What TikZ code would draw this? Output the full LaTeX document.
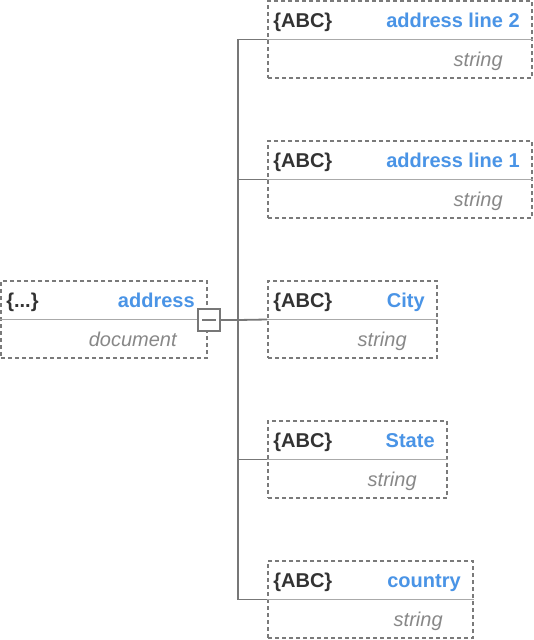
\documentclass[tikz,border=0pt]{standalone}
\usepackage{fontspec}
\setmainfont{Liberation Sans}
\definecolor{bordergray}{HTML}{7A7A7A}
\definecolor{divgray}{HTML}{AAAAAA}
\definecolor{linegray}{HTML}{777777}
\definecolor{nameblue}{HTML}{4A94E6}
\definecolor{kinddark}{HTML}{333333}
\definecolor{typegray}{HTML}{888888}
\tikzset{
  x=1pt, y=1pt,
  fieldbox/.style={draw=bordergray, line width=1.7pt, dash pattern=on 4pt off 3pt, minimum height=77pt, inner sep=0pt, fill=white},
  divider/.style={draw=divgray, line width=1.7pt},
  conn/.style={draw=linegray, line width=1.8pt},
  kindtxt/.style={anchor=base west, inner sep=0pt, text=kinddark, font=\fontsize{20}{23}\selectfont\bfseries},
  nametxt/.style={anchor=base east, inner sep=0pt, text=nameblue, font=\fontsize{20}{23}\selectfont\bfseries},
  typetxt/.style={anchor=base east, inner sep=0pt, text=typegray, font=\fontsize{20}{23}\selectfont\itshape},
  togglebox/.style={draw=linegray, line width=1.7pt, fill=white, minimum width=22pt, minimum height=22pt, inner sep=0pt}
}
\newcommand{\fieldnode}[6]{%
  \node[fieldbox, minimum width=#4] (#1) at (#2,#3) {};
  \draw[divider] (#1.west) -- (#1.east);
  \node[kindtxt] (#1-kind) at ([xshift=6pt, yshift=12.5pt]#1.west) {#5};
  \node[nametxt] (#1-name) at ([xshift=-13pt, yshift=12.5pt]#1.east) {#6};
}
\begin{document}
\begin{tikzpicture}
\useasboundingbox (0,0) rectangle (534,-640);
\coordinate (j) at (238,-320);
\fieldnode{addr}{104}{-319.5}{206pt}{\{...\}}{address}
\node[typetxt] (addr-type) at ([xshift=-31pt, yshift=-26.5pt]addr.east) {document};
\fieldnode{ltwo}{400}{-39.5}{264pt}{\{ABC\}}{address line 2}
\node[typetxt] (ltwo-type) at ([xshift=-30pt, yshift=-26.5pt]ltwo.east) {string};
\fieldnode{lone}{400}{-179.5}{264pt}{\{ABC\}}{address line 1}
\node[typetxt] (lone-type) at ([xshift=-30pt, yshift=-26.5pt]lone.east) {string};
\fieldnode{city}{352.5}{-319.5}{169pt}{\{ABC\}}{City}
\node[typetxt] (city-type) at ([xshift=-31pt, yshift=-26.5pt]city.east) {string};
\fieldnode{state}{357.5}{-459.5}{179pt}{\{ABC\}}{State}
\node[typetxt] (state-type) at ([xshift=-31pt, yshift=-26.5pt]state.east) {string};
\fieldnode{country}{370.5}{-599.5}{205pt}{\{ABC\}}{country}
\node[typetxt] (country-type) at ([xshift=-31pt, yshift=-26.5pt]country.east) {string};
\draw[conn] (ltwo.west) -| (j) |- (country.west);
\draw[conn] (lone.west) -- (lone.west -| j);
\draw[conn] (city.west) -- (j);
\draw[conn] (state.west) -- (state.west -| j);
\node[togglebox] (toggle) at (209,-320) {};
\draw[conn] (toggle.east) -- (j);
\draw[draw=linegray, line width=1.7pt] ([xshift=-7pt]toggle.center) -- ([xshift=7pt]toggle.center);
\end{tikzpicture}
\end{document}
